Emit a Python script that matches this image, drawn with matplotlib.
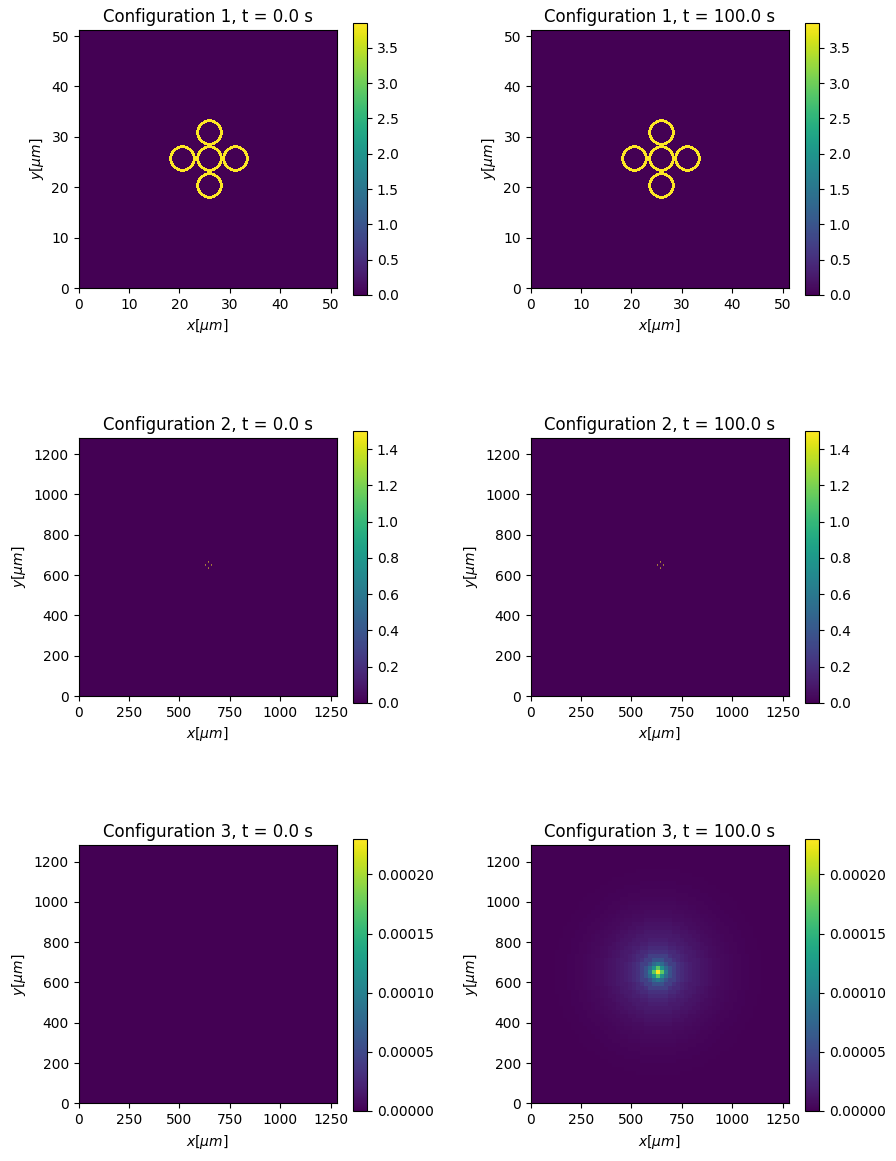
import numpy as np
import matplotlib
matplotlib.use("Agg")
import matplotlib.pyplot as plt

W, H = 896, 1161

# Configuration 1 grid: 256 cells over 51.2 um
CONFIG1_CELLS = 256
CONFIG1_EXTENT = 51.2
CONFIG1_VMAX = 3.85
# ring cells: row offset -> (first, last) column offset, one quadrant
RING_ROWS = {0: (11, 13), 1: (11, 13), 2: (11, 13), 3: (10, 12), 4: (10, 12), 5: (9, 12), 6: (9, 11),
             7: (8, 11), 8: (7, 10), 9: (5, 9), 10: (3, 8), 11: (0, 6), 12: (0, 5), 13: (0, 2)}
RING_CENTRES = [(129, 128), (102, 128), (155, 128), (129, 154), (129, 101)]

# Configuration 2 grid: 256 cells over 1280 um
CONFIG2_CELLS = 256
CONFIG2_EXTENT = 1280
CONFIG2_VMAX = 1.5
CONFIG2_SPOTS = [(128, 132), (125, 129), (131, 129), (128, 126)]

# Configuration 3 grid: 64 cells over 1280 um
CONFIG3_CELLS = 64
CONFIG3_EXTENT = 1280
CONFIG3_VMAX = 0.00023
CONFIG3_PEAK = (31, 32)
# value by whole-cell distance from the peak
CONFIG3_PROFILE = [2.30e-4, 1.72e-4, 0.95e-4, 0.58e-4, 0.44e-4, 0.33e-4, 0.27e-4, 0.225e-4,
                   0.19e-4, 0.165e-4, 0.145e-4, 0.125e-4, 0.11e-4, 0.095e-4, 0.08e-4, 0.07e-4,
                   0.06e-4, 0.05e-4, 0.042e-4, 0.035e-4, 0.03e-4, 0.025e-4, 0.02e-4, 0.016e-4,
                   0.013e-4, 0.01e-4, 0.008e-4, 0.006e-4, 0.004e-4, 0.003e-4, 0.002e-4, 0.001e-4,
                   0.0]
# near-peak cells by (|dx|, |dy|)
CONFIG3_NEAR = {(1, 1): 1.15e-4, (2, 0): 0.95e-4, (0, 2): 0.95e-4, (2, 1): 0.80e-4, (1, 2): 0.80e-4}

TITLES = [["Configuration 1, t = 0.0 s", "Configuration 1, t = 100.0 s"],
          ["Configuration 2, t = 0.0 s", "Configuration 2, t = 100.0 s"],
          ["Configuration 3, t = 0.0 s", "Configuration 3, t = 100.0 s"]]
X_LABEL = r"$x[\mu m]$"
Y_LABEL = r"$y[\mu m]$"


def config1_field():
    field = np.zeros((CONFIG1_CELLS, CONFIG1_CELLS))
    for cx, cy in RING_CENTRES:
        for dy, (first, last) in RING_ROWS.items():
            for dx in range(first, last + 1):
                for sx in (-1, 1):
                    for sy in (-1, 1):
                        field[cy + sy * dy, cx + sx * dx] = CONFIG1_VMAX
    return field


def config2_field():
    field = np.zeros((CONFIG2_CELLS, CONFIG2_CELLS))
    for x, y in CONFIG2_SPOTS:
        field[y, x] = CONFIG2_VMAX
    return field


def config3_field():
    field = np.zeros((CONFIG3_CELLS, CONFIG3_CELLS))
    for row in range(CONFIG3_CELLS):
        for col in range(CONFIG3_CELLS):
            dx, dy = abs(col - CONFIG3_PEAK[0]), abs(row - CONFIG3_PEAK[1])
            index = int(round(np.hypot(dx, dy)))
            value = CONFIG3_PROFILE[index] if index < len(CONFIG3_PROFILE) else 0.0
            field[row, col] = CONFIG3_NEAR.get((dx, dy), value)
    return field


FIELDS = [[config1_field(), config1_field()],
          [config2_field(), config2_field()],
          [np.zeros((CONFIG3_CELLS, CONFIG3_CELLS)), config3_field()]]
EXTENTS = [CONFIG1_EXTENT, CONFIG2_EXTENT, CONFIG3_EXTENT]
VMAXES = [CONFIG1_VMAX, CONFIG2_VMAX, CONFIG3_VMAX]
INTERPOLATION = ["nearest", "antialiased", "nearest"]

AX_TOPS = [30, 438, 845.4]
CB_TOPS = [23, 431, 839]
AX_LEFTS = [78.7, 530.7]
CB_LEFTS = [353, 805]
AX_SIZE = 258
CB_W, CB_H = 14, 272


def rect(left, top, w, h):
    return [left / W, 1 - (top + h) / H, w / W, h / H]


fig = plt.figure(figsize=(W / 100, H / 100), dpi=100)
for r in range(3):
    for c in range(2):
        ax = fig.add_axes(rect(AX_LEFTS[c], AX_TOPS[r], AX_SIZE, AX_SIZE))
        im = ax.imshow(FIELDS[r][c], origin="lower", cmap="viridis", vmin=0, vmax=VMAXES[r],
                       extent=[0, EXTENTS[r], 0, EXTENTS[r]], interpolation=INTERPOLATION[r])
        ax.set_title(TITLES[r][c])
        ax.set_xlabel(X_LABEL)
        ax.set_ylabel(Y_LABEL)
        cax = fig.add_axes(rect(CB_LEFTS[c], CB_TOPS[r], CB_W, CB_H))
        fig.colorbar(im, cax=cax)

fig.savefig("out.png", dpi=100)
